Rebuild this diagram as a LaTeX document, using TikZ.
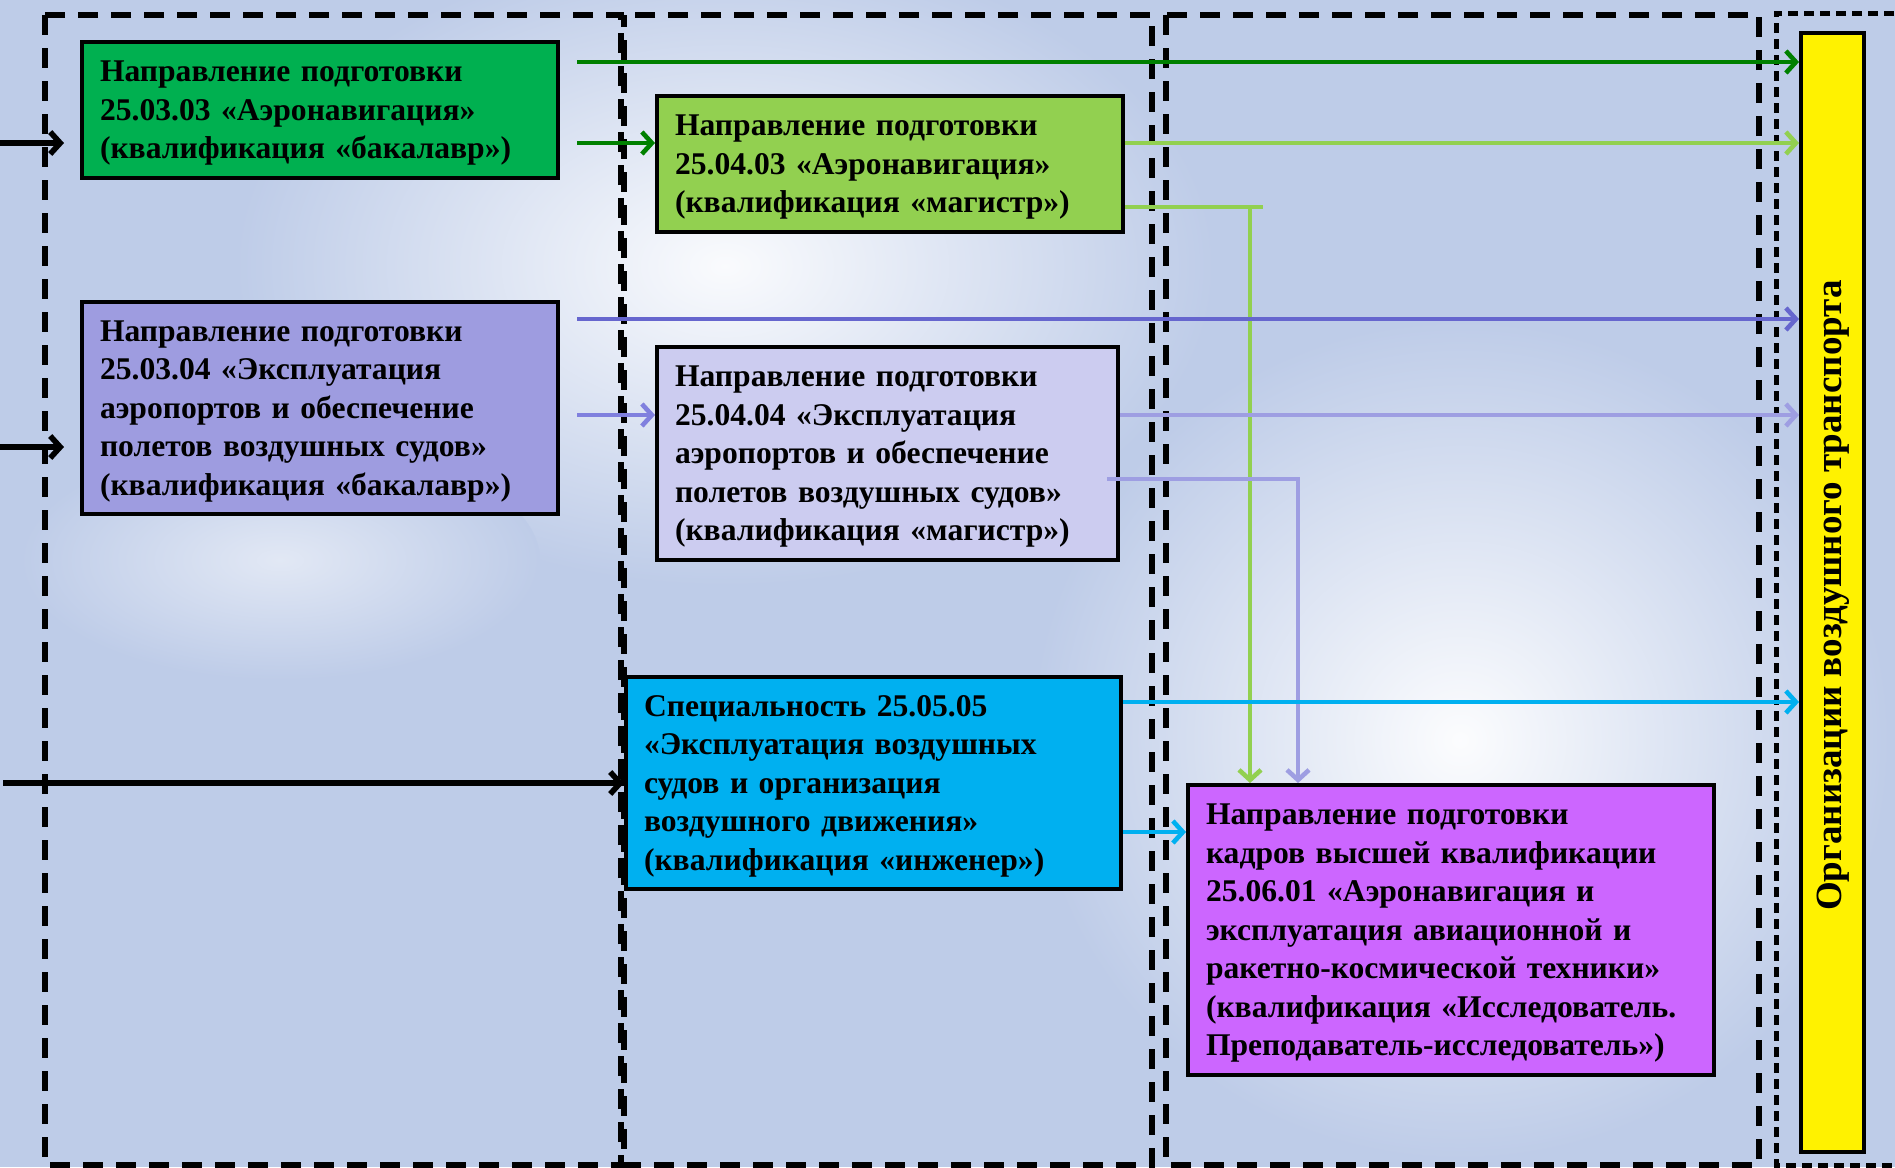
\documentclass[tikz,border=0pt]{standalone}
\usepackage{fontspec}
\setmainfont{Liberation Serif}
\usetikzlibrary{arrows.meta,calc}
\definecolor{bg}{RGB}{190,204,232}
\definecolor{boxA}{RGB}{0,176,80}
\definecolor{boxB}{RGB}{146,208,80}
\definecolor{boxC}{RGB}{158,156,224}
\definecolor{boxD}{RGB}{204,204,240}
\definecolor{boxE}{RGB}{0,176,240}
\definecolor{boxF}{RGB}{204,102,255}
\definecolor{dkgreen}{RGB}{0,128,0}
\definecolor{lgreen}{RGB}{146,208,80}
\definecolor{cline}{RGB}{102,102,206}
\definecolor{carrow}{RGB}{128,128,222}
\definecolor{dline}{RGB}{158,158,226}
\definecolor{cyanc}{RGB}{0,176,240}
\newcommand{\toppad}{\rule{0pt}{13.6pt}}
\begin{document}
\begin{tikzpicture}[x=0.5pt,y=-0.5pt,
  box/.style={draw=black,line width=2pt,anchor=north west,inner xsep=9pt,inner ysep=0pt,
    align=left,font=\bfseries\fontsize{15.8pt}{19.25pt}\selectfont},
  frame/.style={line width=2.7pt,dash pattern=on 10pt off 6.5pt},
  fineframe/.style={line width=2.5pt,dash pattern=on 5pt off 3pt},
  tip/.style={-{Straight Barb[length=5pt,width=11pt]}},
  ln/.style={line width=2.3pt},
  blk/.style={line width=2.8pt,black,tip}]
\useasboundingbox (0,0) rectangle (1895,1167);
\fill[bg] (0,0) rectangle (1895,1167);
% clouds
\shade[inner color=white!92!bg,outer color=bg] (725,266) ellipse [x radius=245pt,y radius=160pt];
\shade[inner color=white!95!bg,outer color=bg] (1460,740) ellipse [x radius=215pt,y radius=210pt];
\shade[inner color=white!55!bg,outer color=bg] (280,560) ellipse [x radius=130pt,y radius=60pt];
% dashed frames
\draw[frame] (45,15) rectangle (621,1165);
\draw[frame,dash phase=4pt] (624,15) rectangle (1152,1165);
\draw[frame] (1166,15) rectangle (1759,1165);
\draw[fineframe] (1910,13) -- (1776,13) -- (1776,1165) -- (1910,1165);
% boxes
\node[box,fill=boxA,minimum width=238pt,minimum height=68pt,text width=220pt] (A) at (80,40)
  {\toppad Направление подготовки\\25.03.03 «Аэронавигация»\\(квалификация «бакалавр»)};
\node[box,fill=boxB,minimum width=233pt,minimum height=68pt,text width=215pt] (B) at (655,94)
  {\toppad Направление подготовки\\25.04.03 «Аэронавигация»\\(квалификация «магистр»)};
\node[box,fill=boxC,minimum width=238pt,minimum height=106pt,text width=220pt] (C) at (80,300)
  {\toppad Направление подготовки\\25.03.04 «Эксплуатация\\аэропортов и обеспечение\\полетов воздушных судов»\\(квалификация «бакалавр»)};
\node[box,fill=boxD,minimum width=230.5pt,minimum height=106.5pt,text width=212.5pt] (D) at (655,345)
  {\toppad Направление подготовки\\25.04.04 «Эксплуатация\\аэропортов и обеспечение\\полетов воздушных судов»\\(квалификация «магистр»)};
\node[box,fill=boxE,minimum width=247.5pt,minimum height=106pt,text width=229.5pt] (E) at (624,675)
  {\toppad Специальность 25.05.05\\«Эксплуатация воздушных\\судов и организация\\воздушного движения»\\(квалификация «инженер»)};
\node[box,fill=boxF,minimum width=263pt,minimum height=145pt,text width=245pt] (F) at (1186,783)
  {\toppad Направление подготовки\\кадров высшей квалификации\\25.06.01 «Аэронавигация и\\эксплуатация авиационной и\\ракетно-космической техники»\\(квалификация «Исследователь.\\Преподаватель-исследователь»)};
\node[draw=black,line width=2pt,fill=yellow,anchor=north west,minimum width=31.5pt,minimum height=559.5pt,inner sep=0pt] (Y) at (1799,31) {};
\node[rotate=90,font=\bfseries\fontsize{18.5pt}{22pt}\selectfont] (Yt) at ($(Y.center)+(1,3)$) {Организации воздушного транспорта};
% level coordinates
\coordinate (s1) at (0,143);
\coordinate (e1) at (64,143);
\coordinate (s2) at (0,447);
\coordinate (e2) at (64,447);
\coordinate (s3) at (3,783);
\coordinate (g1) at (577,62);
\coordinate (g2) at (577,143);
\coordinate (h207) at (0,207);
\coordinate (c1263) at (1263,207);
\coordinate (v1250) at (1250,207);
\coordinate (p1) at (577,319);
\coordinate (p2) at (577,415);
\coordinate (q1) at (1107,479);
\coordinate (q2) at (1298,479);
\coordinate (h702) at (0,702);
\coordinate (h832) at (0,832);
% black inputs
\draw[blk] (s1) -- (e1);
\draw[blk] (s2) -- (e2);
\draw[blk] (s3) -- (s3 -| E.west);
% green
\draw[ln,dkgreen,tip] (g1) -- (g1 -| Y.west);
\draw[ln,dkgreen,tip] (g2) -- (g2 -| B.west);
\draw[ln,lgreen,tip] (B.east |- g2) -- (Y.west |- g2);
\draw[ln,lgreen] (B.east |- h207) -- (c1263);
\draw[ln,lgreen,tip] (v1250) -- (v1250 |- F.north);
% purple
\draw[ln,cline,tip] (p1) -- (p1 -| Y.west);
\draw[ln,carrow,tip] (p2) -- (p2 -| D.west);
\draw[ln,dline,tip] (D.east |- p2) -- (Y.west |- p2);
\draw[ln,dline,tip] (q1) -- (q2) -- (q2 |- F.north);
% cyan
\draw[ln,cyanc,tip] (E.east |- h702) -- (Y.west |- h702);
\draw[ln,cyanc,tip] (E.east |- h832) -- (F.west |- h832);
\end{tikzpicture}
\end{document}
